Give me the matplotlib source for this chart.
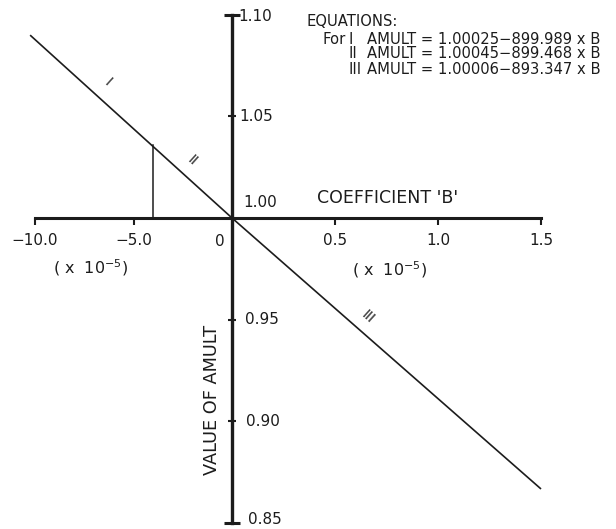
import numpy as np
import matplotlib
matplotlib.use("Agg")
import matplotlib.pyplot as plt

plt.rcParams['font.family'] = ['DejaVu Sans']

# Coefficient B: the left half is read in units of 1e-5, the right half is
# drawn on a stretched scale (RIGHT_STRETCH times wider per unit).
RIGHT_STRETCH = 10.46

x_ticks = [-10.0, -5.0, 0.5, 1.0, 1.5]
x_ticklabels = ["\u221210.0", "\u22125.0", "0.5", "1.0", "1.5"]
y_ticks = [1.10, 1.05, 1.00, 0.95, 0.90, 0.85]
y_ticklabels = ["1.10", "1.05", "1.00", "0.95", "0.90", "0.85"]

# AMULT versus coefficient B
b_line = [-10.25, 0.0, 1.5]
amult_line = [1.090, 1.000, 0.8666]

# vertical drop line from the curve to the B axis
b_drop = -4.0
amult_drop = 1.036

equation_ids = ["I", "II", "III"]
equation_texts = ["AMULT = 1.00025\u2212899.989 x B",
                  "AMULT = 1.00045\u2212899.468 x B",
                  "AMULT = 1.00006\u2212893.347 x B"]

# where the branch marks sit along the line (B, AMULT)
mark_b = [-6.3, -2.0, 0.66]
mark_amult = [1.067, 1.028, 0.951]


def fwd(x):
    x = np.asarray(x, dtype=float)
    return np.where(x < 0, x, x * RIGHT_STRETCH)


def inv(x):
    x = np.asarray(x, dtype=float)
    return np.where(x < 0, x, x / RIGHT_STRETCH)


INK = "#1c1c1c"

fig = plt.figure(figsize=(6.16, 5.29), dpi=100)
ax = fig.add_axes([0, 0, 1, 1])
ax.set_xscale("function", functions=(fwd, inv))
ax.set_xlim(-11.78, 1.864)
ax.set_ylim(0.8469, 1.1073)
ax.patch.set_visible(False)

for s in ["top", "left"]:
    ax.spines[s].set_visible(False)

# horizontal B axis through AMULT = 1.00
ax.spines["bottom"].set_position(("data", 1.0))
ax.spines["bottom"].set_bounds(-10.0, 1.5)
ax.spines["bottom"].set_linewidth(2.2)
ax.spines["bottom"].set_color(INK)
ax.set_xticks(x_ticks)
ax.set_xticklabels(x_ticklabels)
ax.tick_params(axis="x", direction="out", length=5, width=1.5, color=INK,
               pad=6, labelsize=11, labelcolor=INK)
ax.xaxis.set_minor_locator(matplotlib.ticker.NullLocator())

# vertical AMULT axis through B = 0
ax.spines["right"].set_position(("data", 0.0))
ax.spines["right"].set_bounds(0.85, 1.10)
ax.spines["right"].set_linewidth(2.4)
ax.spines["right"].set_color(INK)
ax.yaxis.set_ticks_position("right")
ax.set_yticks([1.05, 0.95, 0.90])
ax.tick_params(axis="y", direction="inout", length=6, width=1.5, color=INK,
               labelright=False, labelleft=False)
ax.yaxis.set_minor_locator(matplotlib.ticker.NullLocator())

# end caps of the AMULT axis
ax.plot([0, 0], [y_ticks[0], y_ticks[-1]], ls="none", marker="_",
        ms=11, mew=2.2, color=INK)

# AMULT tick labels
label_offsets = {"1.10": (6, -2), "1.05": (7, 0), "1.00": (11, 15),
                 "0.95": (13, 0), "0.90": (14, 0), "0.85": (16, 3)}
for val, lab in zip(y_ticks, y_ticklabels):
    dx, dy = label_offsets[lab]
    ax.annotate(lab, (0, val), xytext=(dx, dy), textcoords="offset pixels",
                ha="left", va="center", fontsize=11, color=INK)

# the zero of the B axis, left of the AMULT axis
ax.annotate("0", (0, 1.0), xytext=(-7, -24), textcoords="offset pixels",
            ha="right", va="center", fontsize=11, color=INK)

# data line and drop line
ax.plot(b_line, amult_line, color=INK, lw=1.2, solid_capstyle="butt")
ax.plot([b_drop, b_drop], [1.0, amult_drop], color=INK, lw=1.1)

# branch marks along the line
for b, a, lab in zip(mark_b, mark_amult, equation_ids):
    ax.text(b, a, lab, rotation=-42, ha="center", va="center",
            fontsize=10, color=INK)

# axis titles
ax.text(317 / 616, 1 - 198 / 529, "COEFFICIENT 'B'", transform=ax.transAxes,
        ha="left", va="center", fontsize=12.5, color=INK)
ax.text(212 / 616, 1 - 400 / 529, "VALUE OF AMULT", transform=ax.transAxes,
        ha="center", va="center", rotation=90, fontsize=12.8, color=INK)

# unit notes
for xp, yp in [(91, 268), (390, 270)]:
    ax.text(xp / 616, 1 - yp / 529, "( x  10$^{-5}$)", transform=ax.transAxes,
            ha="center", va="center", fontsize=11.5, color=INK)

# equation block
ax.text(307 / 616, 1 - 22 / 529, "EQUATIONS:", transform=ax.transAxes,
        ha="left", va="center", fontsize=10.6, color=INK)
ax.text(323 / 616, 1 - 39 / 529, "For", transform=ax.transAxes,
        ha="left", va="center", fontsize=10.6, color=INK)
for i, (eid, eq) in enumerate(zip(equation_ids, equation_texts)):
    yp = 39 + 15 * i
    ax.text(348 / 616, 1 - yp / 529, eid, transform=ax.transAxes,
            ha="left", va="center", fontsize=10.6, color=INK)
    ax.text(367 / 616, 1 - yp / 529, eq, transform=ax.transAxes,
            ha="left", va="center", fontsize=10.6, color=INK)

fig.savefig("out.png", dpi=100, facecolor="white")
